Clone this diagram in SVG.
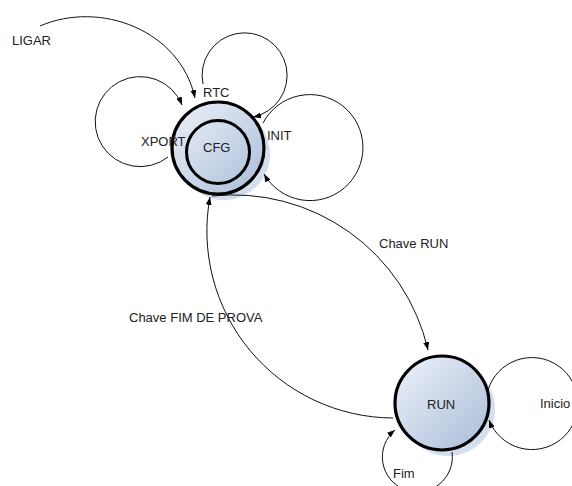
<svg xmlns="http://www.w3.org/2000/svg" width="572" height="486" viewBox="0 0 572 486">
<defs>
<linearGradient id="g" x1="0" y1="0" x2="1" y2="1">
<stop offset="0" stop-color="#eef2f9"/>
<stop offset="1" stop-color="#a9bcd9"/>
</linearGradient>
<marker id="ah" markerWidth="8" markerHeight="6" refX="8" refY="3" orient="auto" markerUnits="userSpaceOnUse">
<path d="M0,0 L8,3 L0,6 Z" fill="#000"/>
</marker>
</defs>
<style>
.lbl{font-family:"Liberation Sans",Arial,sans-serif;font-size:13px;fill:#222}
.edge{fill:none;stroke:#111;stroke-width:1}
.shadow{fill:#d4dfee}
.node{fill:url(#g);stroke:#000;stroke-width:3.2}
</style>
<rect width="572" height="486" fill="#fff"/>
<g id="CFG">
<circle class="shadow" cx="224" cy="154" r="46"/>
<circle class="node" cx="218" cy="148" r="46"/>
<circle cx="218" cy="152" r="31.5" fill="none" stroke="#000" stroke-width="3"/>
<text class="lbl" x="203" y="152">CFG</text>
</g>
<g id="RUN">
<circle class="shadow" cx="448" cy="409" r="47"/>
<circle class="node" cx="442" cy="403" r="47"/>
<text class="lbl" x="427" y="409">RUN</text>
</g>
<g id="connectors">
<path class="edge" d="M40,26 C100,0 180,30 195,98" marker-end="url(#ah)"/>
<path class="edge" d="M168,157 A45,45 0 1 1 182,105" marker-end="url(#ah)"/>
<path class="edge" d="M203,84 A42.5,42.5 0 1 1 253,117" marker-end="url(#ah)"/>
<path class="edge" d="M263,123 A53,53 0 1 1 264,174" marker-end="url(#ah)"/>
<path class="edge" d="M212,196 A200,200 0 0 1 428,350" marker-end="url(#ah)"/>
<path class="edge" d="M393,418 A187,187 0 0 1 210,197" marker-end="url(#ah)"/>
<path class="edge" d="M452,452 A35,35 0 1 1 395,430" marker-end="url(#ah)"/>
<path class="edge" d="M488,390 A46,46 0 1 1 489,420" marker-end="url(#ah)"/>
</g>
<g id="labels">
<text class="lbl" x="12" y="45">LIGAR</text>
<text class="lbl" x="203" y="97">RTC</text>
<text class="lbl" x="141" y="146">XPORT</text>
<text class="lbl" x="267" y="140">INIT</text>
<text class="lbl" x="379" y="248">Chave RUN</text>
<text class="lbl" x="129" y="322">Chave FIM DE PROVA</text>
<text class="lbl" x="540" y="408">Inicio</text>
<text class="lbl" x="393" y="478">Fim</text>
</g>
</svg>
